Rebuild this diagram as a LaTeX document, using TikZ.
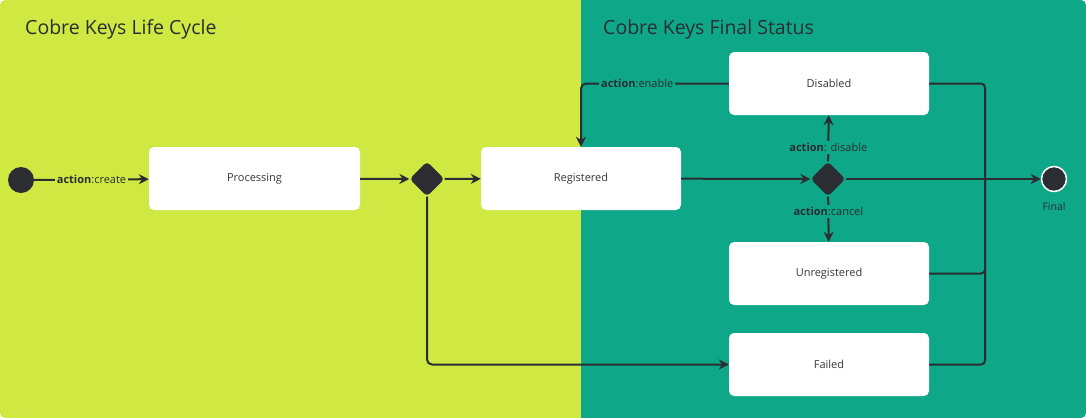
\documentclass[tikz,border=0pt]{standalone}
\usepackage{fontspec}
\setmainfont{Open Sans}
\usetikzlibrary{arrows.meta,shapes.geometric}
\definecolor{limebg}{RGB}{207,232,66}
\definecolor{tealbg}{RGB}{14,167,136}
\definecolor{inkdark}{RGB}{43,45,51}
\definecolor{textgray}{RGB}{55,55,58}
\begin{document}
\begin{tikzpicture}[x=1pt,y=-1pt,
state_style/.style={fill=white,rounded corners=5pt,minimum width=200pt,minimum height=63pt,inner sep=0pt,font=\fontsize{11}{13}\selectfont,text=textgray},
choice_style/.style={diamond,fill=inkdark,rounded corners=4pt,minimum width=35pt,minimum height=35pt,inner sep=0pt},
dot_style/.style={circle,fill=inkdark,minimum size=26pt,inner sep=0pt},
line_style/.style={draw=inkdark,line width=2pt},
edge_style/.style={line_style,-{Stealth[length=10pt,width=10pt]}},
label_style/.style={font=\fontsize{11}{13}\selectfont,text=inkdark,inner sep=2pt},
title_style/.style={anchor=west,inner sep=0pt,font=\fontsize{19.5}{22}\selectfont,text=inkdark}]
\useasboundingbox (0,0) rectangle (1086,418);
\begin{scope}
\clip[rounded corners=5pt] (0,0) rectangle (1086,418);
\fill[limebg] (0,0) rectangle (581,418);
\fill[tealbg] (581,0) rectangle (1086,418);
\end{scope}
\node[title_style] (title_left) at (25,29) {Cobre Keys Life Cycle};
\node[title_style] (title_right) at (603,29) {Cobre Keys Final Status};
% states
\node[dot_style] (start) at (21,180) {};
\node[state_style,minimum width=211pt] (proc) at (254.5,178.5) {Processing};
\node[choice_style] (choice1) at (427,179) {};
\node[state_style] (reg) at (581,178.5) {Registered};
\node[choice_style] (choice2) at (828,179) {};
\node[state_style] (dis) at (829,83.5) {Disabled};
\node[state_style] (unreg) at (829,273.5) {Unregistered};
\node[state_style] (failed) at (829,364.5) {Failed};
\node[dot_style,draw=white,line width=1.5pt,minimum size=25pt] (final) at (1054,179) {};
\node[font=\fontsize{10.5}{12}\selectfont,text=inkdark] (final_lbl) at (1054,207) {Final};
\coordinate (merge) at (985,179);
% transitions
\draw[edge_style] (start) -- node[label_style,fill=limebg]{\textbf{action}:create} (proc);
\draw[edge_style] (proc) -- (choice1);
\draw[edge_style] (choice1) -- (reg);
\draw[edge_style,rounded corners=5pt] (choice1.south) |- (failed);
\draw[edge_style] (reg) -- (choice2);
\draw[edge_style] (choice2) -- node[pos=0.3,label_style,fill=tealbg]{\textbf{action}: disable} (dis);
\draw[edge_style] (choice2) -- node[pos=0.33,label_style,fill=tealbg]{\textbf{action}:cancel} (unreg);
\draw[edge_style,rounded corners=5pt] (dis.west) -| node[pos=0.31,label_style,fill=tealbg]{\textbf{action}:enable} (reg.north);
\draw[line_style,rounded corners=4pt] (dis.east) -| (merge);
\draw[line_style,rounded corners=4pt] (unreg.east) -| (merge);
\draw[line_style,rounded corners=4pt] (failed.east) -| (merge);
\draw[edge_style] (choice2) -- (final);
\end{tikzpicture}
\end{document}
